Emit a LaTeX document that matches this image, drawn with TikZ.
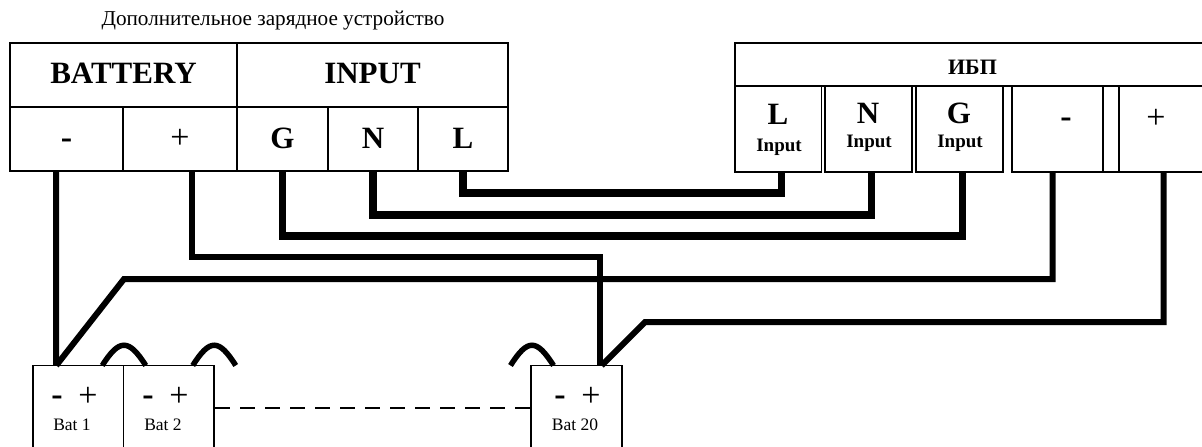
\documentclass[tikz,border=0pt]{standalone}
\usepackage{fontspec}
\setmainfont{Liberation Serif}
\usetikzlibrary{positioning, calc}

\tikzset{
	cell/.style={draw, line width=1.8pt, inner sep=0pt, outer sep=0pt, anchor=north west, align=center},
	batcell/.style={cell, line width=1.4pt, minimum height=100pt},
	headtxt/.style={font=\bfseries\fontsize{31}{33}\selectfont, text depth=4pt},
	signtxt/.style={font=\fontsize{34}{36}\selectfont, text height=18pt, text depth=0pt},
	mintxt/.style={font=\bfseries\fontsize{34}{36}\selectfont, text height=19pt, text depth=0pt},
	nametxt/.style={font=\bfseries\fontsize{31}{33}\selectfont, text depth=2pt},
	inputtxt/.style={font=\bfseries\fontsize{19}{21}\selectfont},
	battxt/.style={font=\fontsize{17.5}{20}\selectfont},
	wire/.style={line width=6pt, line join=miter},
	fatwire/.style={line width=7.5pt, line join=miter},
	jumper/.style={line width=5.5pt},
}

\begin{document}
\begin{tikzpicture}[x=1pt, y=-1pt]
	\clip (0,0) rectangle (1202,447);

	% charger
	\node[font=\fontsize{21.2}{24}\selectfont] (title) at (273,21) {Дополнительное зарядное устройство};
	\node[cell, headtxt, minimum width=227pt, minimum height=64pt] (chgBat) at (10,43) {BATTERY};
	\node[cell, headtxt, minimum width=271pt, minimum height=64pt] (chgIn) at (237,43) {INPUT};
	\node[cell, mintxt, minimum width=113pt, minimum height=64pt] (chgMinus) at (10,107) {-};
	\node[cell, signtxt, minimum width=114pt, minimum height=64pt] (chgPlus) at (123,107) {+};
	\node[cell, nametxt, minimum width=91pt, minimum height=64pt] (chgG) at (237,107) {G};
	\node[cell, nametxt, minimum width=90pt, minimum height=64pt] (chgN) at (328,107) {N};
	\node[cell, nametxt, minimum width=90pt, minimum height=64pt] (chgL) at (418,107) {L};

	% ups
	\node[cell, font=\bfseries\fontsize{22}{24}\selectfont, text height=20pt, minimum width=475pt, minimum height=43pt] (ups) at (735,43) {ИБП};
	\node[cell, minimum width=86.5pt, minimum height=86pt] (upsL) at (735,86) {};
	\node[cell, minimum width=87pt, minimum height=86pt] (upsN) at (825,86) {};
	\node[cell, minimum width=87pt, minimum height=86pt] (upsG) at (916,86) {};
	\node[cell, minimum width=91pt, minimum height=86pt] (upsMinus) at (1012,86) {};
	\node[cell, minimum width=16pt, minimum height=86pt] (upsGap) at (1103,86) {};
	\node[cell, minimum width=91pt, minimum height=86pt] (upsPlus) at (1119,86) {};
	\node[nametxt] (txtL) at (778,115) {L};
	\node[inputtxt] (inL) at (779,147) {Input};
	\node[nametxt] (txtN) at (868,114) {N};
	\node[inputtxt] (inN) at (869,143) {Input};
	\node[nametxt] (txtG) at (959,114) {G};
	\node[inputtxt] (inG) at (960,143) {Input};
	\node[mintxt] (txtMinus) at (1066,118) {-};
	\node[signtxt] (txtPlus) at (1156,119) {+};

	% batteries
	\node[batcell, minimum width=90.5pt] (bat1) at (33,365.5) {};
	\node[batcell, minimum width=90.5pt] (bat2) at (123.5,365.5) {};
	\node[batcell, minimum width=91pt] (bat20) at (531,365.5) {};
	\foreach \b/\t/\x in {bat1/Bat 1/72, bat2/Bat 2/163, bat20/Bat 20/575}{
		\node[mintxt] (\b minus) at (\x-15,396) {-};
		\node[signtxt] (\b plus) at (\x+16,397) {+};
		\node[battxt] (\b txt) at (\x,425) {\t};
	}

	% charger to ups
	\draw[fatwire] (chgL.south) -- ++(0,22) -| ([xshift=3pt]upsL.south);
	\draw[fatwire] (chgN.south) -- ++(0,44) -| ([xshift=3pt]upsN.south);
	\draw[fatwire] (chgG.south) -- ++(0,65) -| ([xshift=3pt]upsG.south);

	% battery leads
	\coordinate (elbowMinus) at (124,279);
	\coordinate (elbowPlus) at (645,322);
	\draw[wire] ([xshift=-10.5pt]chgMinus.south) -- ([xshift=-22pt]bat1.north);
	\draw[wire] ([xshift=12pt]chgPlus.south) -- ++(0,86) -| ([xshift=23pt]bat20.north);
	\draw[wire] ([xshift=-5pt]upsMinus.south) |- (elbowMinus) -- ([xshift=-22pt]bat1.north);
	\draw[wire] ([xshift=-1pt]upsPlus.south) |- (elbowPlus) -- ([xshift=25pt]bat20.north);

	% jumpers
	\coordinate (bat2end) at ([xshift=67pt]bat2.north);
	\coordinate (bat20start) at ([xshift=-66pt]bat20.north);
	\draw[jumper] ([xshift=24pt]bat1.north) .. controls +(17,-27) and +(-17,-27) .. ([xshift=-23pt]bat2.north);
	\draw[jumper] ([xshift=24pt]bat2.north) .. controls +(17,-27) and +(-17,-27) .. (bat2end);
	\draw[jumper] (bat20start) .. controls +(17,-27) and +(-17,-27) .. ([xshift=-23pt]bat20.north);

	% link between batteries
	\coordinate (dashA) at (215,408);
	\coordinate (dashB) at (531,408);
	\draw[line width=1.1pt, dash pattern=on 15pt off 10pt] (dashA) -- (dashB);
\end{tikzpicture}
\end{document}
